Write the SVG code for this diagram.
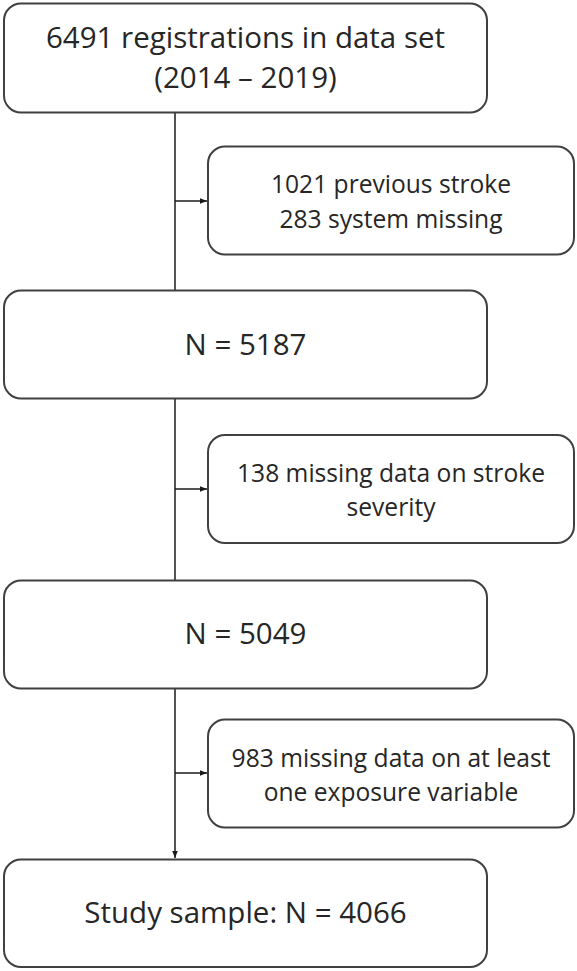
<svg xmlns="http://www.w3.org/2000/svg" width="577" height="971" viewBox="0 0 577 971">
<style>
.box{fill:#ffffff;stroke:#404040;stroke-width:2}
.main{font-family:"Open Sans","Noto Sans",sans-serif;font-size:29.5px;fill:#262626;text-anchor:middle}
.side{font-family:"Open Sans","Noto Sans",sans-serif;font-size:24.6px;fill:#262626;text-anchor:middle}
.conn{stroke:#1a1a1a;stroke-width:1.5;fill:none}
</style>
<defs>
<marker id="arr" viewBox="0 0 10 10" refX="10" refY="5" markerWidth="7" markerHeight="7" markerUnits="userSpaceOnUse" orient="auto">
<path d="M0,1 L10,5 L0,9 Z" fill="#1a1a1a"/>
</marker>
</defs>
<rect width="577" height="971" fill="#ffffff"/>
<g id="connectors">
<line class="conn" x1="175" y1="112" x2="175" y2="291"/>
<line class="conn" x1="175" y1="398" x2="175" y2="581"/>
<line class="conn" x1="175" y1="688" x2="175" y2="858" marker-end="url(#arr)"/>
<line class="conn" x1="175" y1="201" x2="207" y2="201" marker-end="url(#arr)"/>
<line class="conn" x1="175" y1="489" x2="207" y2="489" marker-end="url(#arr)"/>
<line class="conn" x1="175" y1="773" x2="207" y2="773" marker-end="url(#arr)"/>
</g>
<g id="n1">
<rect class="box" x="4" y="3.5" width="483" height="109" rx="17"/>
<text class="main" x="245.5" y="48">6491 registrations in data set</text>
<text class="main" x="245.5" y="88">(2014 – 2019)</text>
</g>
<g id="e1">
<rect class="box" x="208" y="146.5" width="366" height="108" rx="17"/>
<text class="side" x="391" y="193">1021 previous stroke</text>
<text class="side" x="391" y="228">283 system missing</text>
</g>
<g id="n2">
<rect class="box" x="4" y="290.5" width="483" height="108" rx="17"/>
<text class="main" x="245.5" y="355">N = 5187</text>
</g>
<g id="e2">
<rect class="box" x="208" y="435" width="366" height="108" rx="17"/>
<text class="side" x="391" y="482">138 missing data on stroke</text>
<text class="side" x="391" y="516">severity</text>
</g>
<g id="n3">
<rect class="box" x="4" y="580.5" width="483" height="108" rx="17"/>
<text class="main" x="245.5" y="644">N = 5049</text>
</g>
<g id="e3">
<rect class="box" x="208" y="719.5" width="366" height="108" rx="17"/>
<text class="side" x="391" y="767">983 missing data on at least</text>
<text class="side" x="391" y="801">one exposure variable</text>
</g>
<g id="n4">
<rect class="box" x="4" y="859.5" width="483" height="107.5" rx="17"/>
<text class="main" x="245.5" y="923">Study sample: N = 4066</text>
</g>
</svg>
